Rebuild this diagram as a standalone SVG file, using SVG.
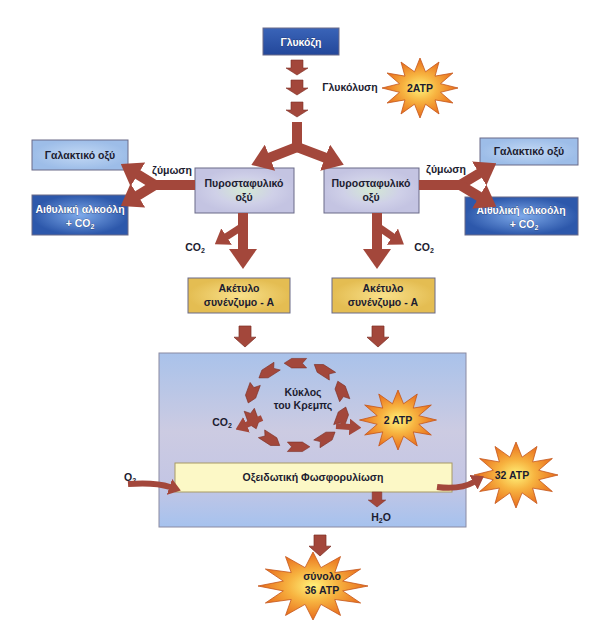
<svg xmlns="http://www.w3.org/2000/svg" xmlns:xlink="http://www.w3.org/1999/xlink" width="593" height="621" viewBox="0 0 593 621">
<style>
text{font-family:"Liberation Sans","DejaVu Sans",sans-serif;font-weight:bold;font-size:10.5px;fill:#1c1c30;text-anchor:middle}
.w{fill:#ffffff;stroke:#1a2550;stroke-width:0.4px;paint-order:stroke}
.ar{fill:none;stroke:#a3473b;stroke-linejoin:miter}
.blk{fill:#a3473b;stroke:#7e3026;stroke-width:0.6}
.box{stroke:#6a6a88;stroke-width:1}
</style>
<defs>
<marker id="ah" viewBox="0 0 10 14" markerWidth="2" markerHeight="2.8" refX="0.5" refY="7" orient="auto" markerUnits="strokeWidth">
<path d="M0,0 L10,7 L0,14 z" fill="#a3473b"/>
</marker>
<linearGradient id="gGlu" x1="0" y1="0" x2="0" y2="1"><stop offset="0" stop-color="#3a64b8"/><stop offset="1" stop-color="#23479a"/></linearGradient>
<radialGradient id="gAlc"><stop offset="0" stop-color="#7eaaea"/><stop offset="1" stop-color="#2d58ab"/></radialGradient>
<radialGradient id="gLac"><stop offset="0" stop-color="#c2d8f4"/><stop offset="1" stop-color="#9dbde8"/></radialGradient>
<radialGradient id="gPyr"><stop offset="0" stop-color="#d4e8d4"/><stop offset="0.6" stop-color="#cfd0e8"/><stop offset="1" stop-color="#c4c4e2"/></radialGradient>
<radialGradient id="gAce"><stop offset="0" stop-color="#f8e08a"/><stop offset="1" stop-color="#e4bd52"/></radialGradient>
<linearGradient id="gBig" x1="0" y1="0" x2="0" y2="1"><stop offset="0" stop-color="#a9c2ea"/><stop offset="0.45" stop-color="#cccbe2"/><stop offset="0.75" stop-color="#c4c6e4"/><stop offset="1" stop-color="#a6c2ee"/></linearGradient>
<radialGradient id="gStar"><stop offset="0" stop-color="#fff27a"/><stop offset="0.45" stop-color="#f7b340"/><stop offset="1" stop-color="#e86c1c"/></radialGradient>
<polygon id="star" fill="url(#gStar)" stroke="#c4561a" stroke-width="0.8" vector-effect="non-scaling-stroke" points="50,0 27,7.2 43.3,25 19.8,19.8 25,43.3 7.2,27 0,50 -7.2,27 -25,43.3 -19.8,19.8 -43.3,25 -27,7.2 -50,0 -27,-7.2 -43.3,-25 -19.8,-19.8 -25,-43.3 -7.2,-27 0,-50 7.2,-27 25,-43.3 19.8,-19.8 43.3,-25 27,-7.2"/>
<polygon id="dn" class="blk" points="-6,0 6,0 6,8 11,8 0,15 -11,8 -6,8"/>
<polygon id="seg" class="blk" points="9,-49 -5,-49 -12,-44 -5,-39 9,-39 5,-44"/>
</defs>
<rect width="593" height="621" fill="#ffffff"/>

<g id="big-box">
<rect x="159" y="353" width="307" height="174" fill="url(#gBig)" stroke="#8a8aa2" stroke-width="1"/>
</g>

<g id="glucose">
<rect class="box" x="263" y="28" width="76" height="27" fill="url(#gGlu)" stroke="#1a2f70"/>
<text class="w" x="301" y="46">Γλυκόζη</text>
</g>
<g id="glycolysis-label"><text x="350" y="91">Γλυκόλυση</text></g>
<g id="atp-glycolysis">
<use xlink:href="#star" transform="translate(420,88) scale(0.76,0.6)"/>
<text x="420" y="92">2ATP</text>
</g>

<g id="lactic-left">
<rect class="box" x="32" y="140" width="96" height="30" fill="url(#gLac)"/>
<text x="80" y="159">Γαλακτικό οξύ</text>
</g>
<g id="alcohol-left">
<rect class="box" x="32" y="195" width="96" height="40" fill="url(#gAlc)" stroke="#1f3a80"/>
<text class="w" x="80" y="213">Αιθυλική αλκοόλη</text>
<text class="w" x="80" y="227">+ CO<tspan font-size="7" dy="2">2</tspan></text>
</g>
<g id="lactic-right">
<rect class="box" x="480" y="138" width="98" height="27" fill="url(#gLac)"/>
<text x="529" y="155">Γαλακτικό οξύ</text>
</g>
<g id="alcohol-right">
<rect class="box" x="465" y="197" width="113" height="38" fill="url(#gAlc)" stroke="#1f3a80"/>
<text class="w" x="521" y="214">Αιθυλική αλκοόλη</text>
<text class="w" x="524" y="228">+ CO<tspan font-size="7" dy="2">2</tspan></text>
</g>

<g id="pyruvate-left">
<rect class="box" x="195" y="168" width="99" height="45" fill="url(#gPyr)" stroke="#7a6e8c"/>
<text x="244" y="187">Πυροσταφυλικό</text>
<text x="244" y="201">οξύ</text>
</g>
<g id="pyruvate-right">
<rect class="box" x="324" y="168" width="95" height="45" fill="url(#gPyr)" stroke="#7a6e8c"/>
<text x="371" y="187">Πυροσταφυλικό</text>
<text x="371" y="201">οξύ</text>
</g>

<g id="acetyl-left">
<rect class="box" x="188" y="278" width="102" height="35" fill="url(#gAce)" stroke="#a08434"/>
<text x="239" y="292">Ακέτυλο</text>
<text x="239" y="306">συνένζυμο - A</text>
</g>
<g id="acetyl-right">
<rect class="box" x="332" y="278" width="103" height="35" fill="url(#gAce)" stroke="#a08434"/>
<text x="383" y="292">Ακέτυλο</text>
<text x="383" y="306">συνένζυμο - A</text>
</g>

<g id="krebs">
<g transform="translate(297,405) scale(1.07,0.95)">
<use xlink:href="#seg"/>
<use xlink:href="#seg" transform="rotate(36)"/>
<use xlink:href="#seg" transform="rotate(72)"/>
<use xlink:href="#seg" transform="rotate(108)"/>
<use xlink:href="#seg" transform="rotate(144)"/>
<use xlink:href="#seg" transform="rotate(180)"/>
<use xlink:href="#seg" transform="rotate(216)"/>
<use xlink:href="#seg" transform="rotate(252)"/>
<use xlink:href="#seg" transform="rotate(288)"/>
<use xlink:href="#seg" transform="rotate(324)"/>
</g>
<text x="303" y="396">Κύκλος</text>
<text x="303" y="409">του Κρεμπς</text>
</g>
<g id="atp-krebs">
<use xlink:href="#star" transform="translate(398,420) scale(0.77,0.6)"/>
<text x="398" y="424">2 ATP</text>
</g>

<g id="oxphos">
<rect x="175" y="463" width="277" height="29" fill="#fcf8c6" stroke="#a89a64" stroke-width="1"/>
<text x="313" y="481">Οξειδωτική Φωσφορυλίωση</text>
</g>
<g id="atp-oxphos">
<use xlink:href="#star" transform="translate(516,475) scale(0.84,0.66)"/>
<text x="512" y="479">32 ATP</text>
</g>
<g id="atp-total">
<use xlink:href="#star" transform="translate(313,586) scale(1.1,0.68)"/>
<text x="322" y="580">σύνολο</text>
<text x="322" y="594">36 ATP</text>
</g>

<g id="labels">
<text x="172" y="174">ζύμωση</text>
<text x="446" y="173">ζύμωση</text>
<text x="195" y="251">CO<tspan font-size="7" dy="2">2</tspan></text>
<text x="424" y="251">CO<tspan font-size="7" dy="2">2</tspan></text>
<text x="222" y="426">CO<tspan font-size="7" dy="2">2</tspan></text>
<text x="130" y="481">O<tspan font-size="7" dy="2">2</tspan></text>
<text x="381" y="521">H<tspan font-size="7" dy="2">2</tspan><tspan dy="-2">O</tspan></text>
</g>

<g id="connectors">
<use xlink:href="#dn" transform="translate(297,60)"/>
<use xlink:href="#dn" transform="translate(297,80)"/>
<use xlink:href="#dn" transform="translate(297,102)"/>
<polyline class="ar" stroke-width="10" points="297,122 297,147 269,158" marker-end="url(#ah)"/>
<polyline class="ar" stroke-width="10" points="297,122 297,147 326,158" marker-end="url(#ah)"/>
<polyline class="ar" stroke-width="10" points="195,185 155,185 137,174" marker-end="url(#ah)"/>
<polyline class="ar" stroke-width="10" points="195,185 155,185 137,196" marker-end="url(#ah)"/>
<polyline class="ar" stroke-width="10" points="419,185 460,185 480,173" marker-end="url(#ah)"/>
<polyline class="ar" stroke-width="10" points="419,185 460,185 480,197" marker-end="url(#ah)"/>
<line class="ar" stroke-width="10" x1="243" y1="213" x2="243" y2="250" marker-end="url(#ah)"/>
<line class="ar" stroke-width="7" x1="243" y1="226" x2="226" y2="237" marker-end="url(#ah)"/>
<line class="ar" stroke-width="10" x1="377" y1="213" x2="377" y2="250" marker-end="url(#ah)"/>
<line class="ar" stroke-width="7" x1="377" y1="226" x2="393" y2="237" marker-end="url(#ah)"/>
<use xlink:href="#dn" transform="translate(245,326) scale(1,1.4)"/>
<use xlink:href="#dn" transform="translate(378,326) scale(1,1.4)"/>
<line class="ar" stroke-width="6" x1="262" y1="418" x2="246" y2="425" marker-end="url(#ah)"/>
<line class="ar" stroke-width="6" x1="336" y1="426" x2="350" y2="427" marker-end="url(#ah)"/>
<path class="ar" stroke-width="6" d="M128,484 Q155,482 170,487" marker-end="url(#ah)"/>
<path class="ar" stroke-width="6" d="M437,487 Q460,490 474,482" marker-end="url(#ah)"/>
<use xlink:href="#dn" transform="translate(377,492) scale(0.8,1)"/>
<use xlink:href="#dn" transform="translate(320,535) scale(1,1.4)"/>
</g>
</svg>
